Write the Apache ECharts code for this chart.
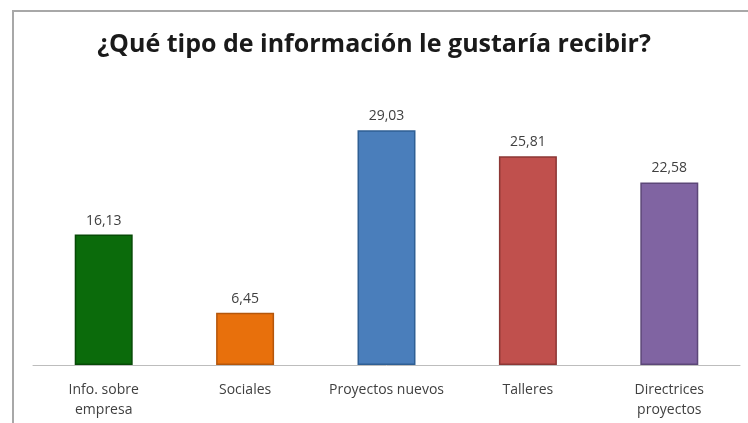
<!DOCTYPE html>
<html>
<head>
<meta charset="utf-8">
<style>
  html, body { margin: 0; padding: 0; background: #fff; }
  #chart { width: 748px; height: 423px; }
</style>
<script src="https://cdn.jsdelivr.net/npm/echarts@6/dist/echarts.min.js"></script>
</head>
<body>
<div id="chart"></div>
<script>
// Survey results: share of answers (%) per information type
const categories = ['Info. sobre\nempresa', 'Sociales', 'Proyectos nuevos', 'Talleres', 'Directrices\nproyectos'];
const values = [16.13, 6.45, 29.03, 25.81, 22.58];
const barColors = ['#0b6b0b', '#e8700c', '#4a7ebb', '#c0504d', '#8064a2'];
const barBorders = ['#064a06', '#b5560a', '#2f5f94', '#8c3735', '#5c4778'];

const chart = echarts.init(document.getElementById('chart'), null, { renderer: 'canvas' });

chart.setOption({
  animation: false,
  backgroundColor: '#ffffff',
  title: {
    text: '¿Qué tipo de información le gustaría recibir?',
    left: 'center',
    top: 27,
    textStyle: {
      fontFamily: 'Open Sans',
      fontWeight: 'bold',
      fontSize: 25,
      color: '#1a1a1a'
    }
  },
  graphic: [
    {
      type: 'polyline',
      silent: true,
      shape: { points: [[13, 423], [13, 11], [748, 11]] },
      style: { stroke: '#a8a8a8', lineWidth: 2, fill: null }
    }
  ],
  grid: { left: 33, right: 8, top: 82, bottom: 58 },
  xAxis: {
    type: 'category',
    data: categories,
    axisLine: { lineStyle: { color: '#bdbdbd', width: 1 } },
    axisTick: { show: false },
    axisLabel: {
      color: '#404040',
      fontFamily: 'Open Sans',
      fontSize: 14,
      lineHeight: 20,
      margin: 15,
      interval: 0
    }
  },
  yAxis: {
    type: 'value',
    min: 0,
    max: 35,
    interval: 5,
    show: false,
    splitLine: { show: false }
  },
  series: [
    {
      type: 'bar',
      barWidth: '41%',
      data: values.map((v, i) => ({
        value: v,
        itemStyle: { color: barColors[i], borderColor: barBorders[i], borderWidth: 1.5 }
      })),
      label: {
        show: true,
        position: 'top',
        distance: 7,
        color: '#404040',
        fontFamily: 'Open Sans',
        fontSize: 14,
        formatter: p => p.value.toFixed(2).replace('.', ',')
      }
    }
  ]
});
</script>
</body>
</html>
